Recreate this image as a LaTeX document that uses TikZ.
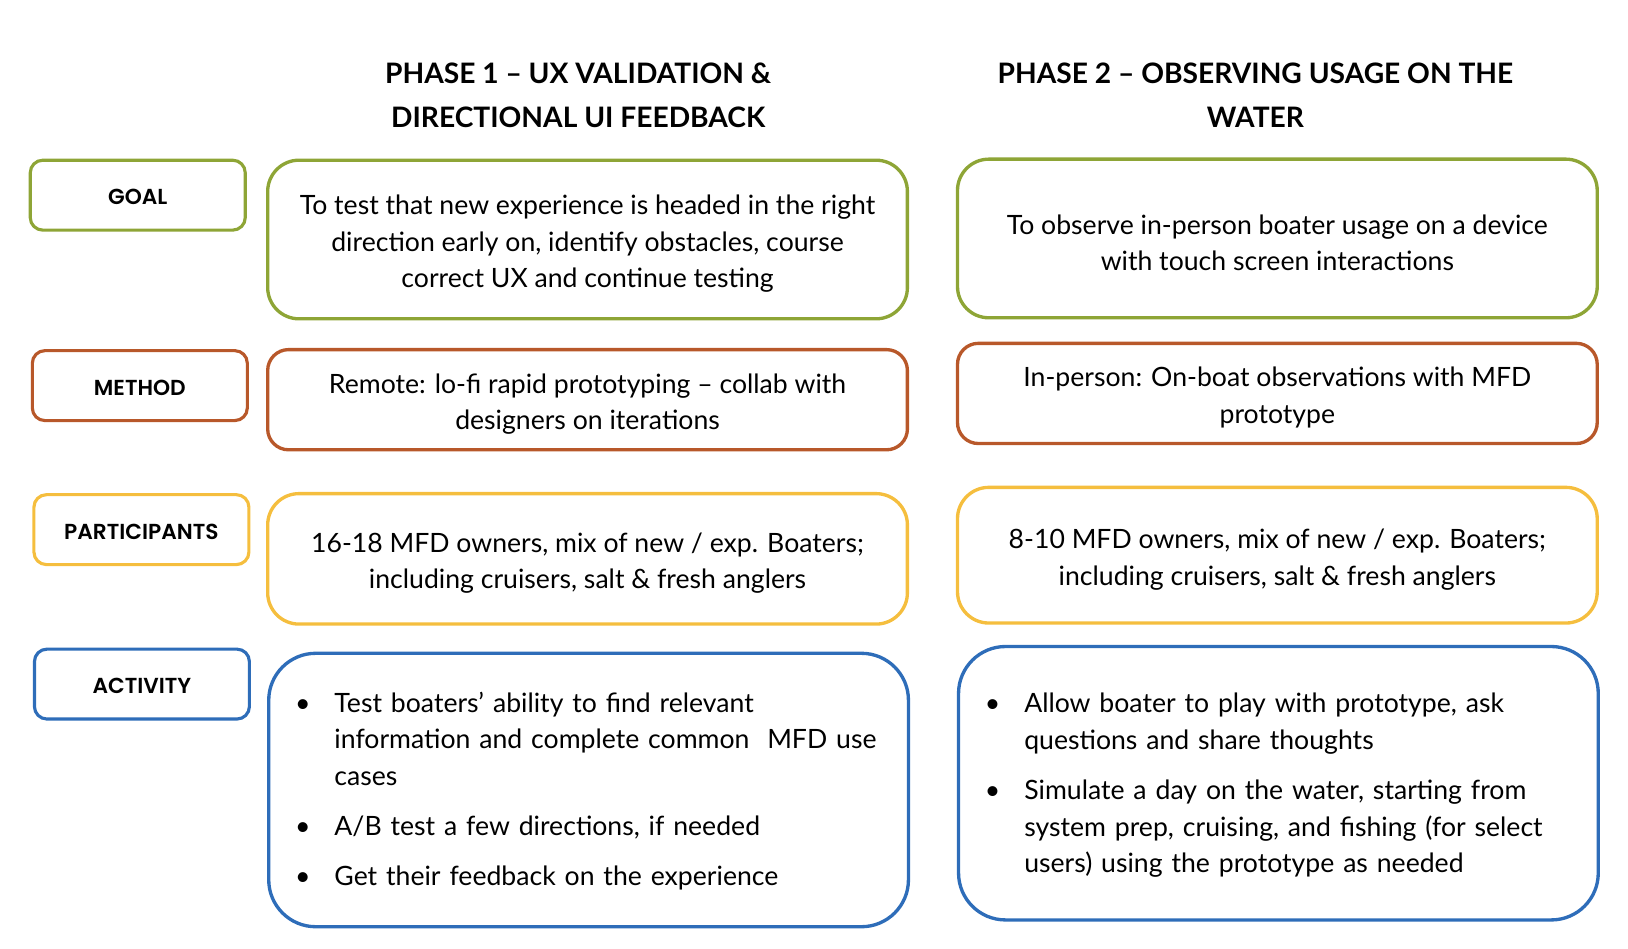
\documentclass[tikz,border=0pt]{standalone}
\usepackage{fontspec}
\setmainfont{Lato}
\newfontfamily\labelfont{Poppins SemiBold}
\usepackage{enumitem}
\definecolor{goalgreen}{RGB}{142,165,54}
\definecolor{methodred}{RGB}{184,88,42}
\definecolor{partyellow}{RGB}{245,190,62}
\definecolor{actblue}{RGB}{46,109,185}
\newlist{steps}{itemize}{1}
\setlist[steps]{label=\textbullet, nosep, itemsep=13pt, leftmargin=38pt, labelsep=23pt}
\newcommand\topstrut{\rule{0pt}{27pt}}

\begin{document}
\begin{tikzpicture}[x=1pt,y=-1pt]
    \tikzstyle{lbl}=[draw, line width=3pt, rounded corners=12pt, minimum width=206pt, minimum height=67pt, inner sep=0pt, text height=18.5pt, text depth=0pt, font=\labelfont\fontsize{20.8}{24}\selectfont]
    \tikzstyle{box}=[draw, line width=3.2pt, rounded corners=30pt, minimum width=613pt, inner sep=0pt, align=center, font=\fontsize{25.5}{35}\selectfont]
    \tikzstyle{actbox}=[box, rounded corners=45pt, text width=563pt, inner xsep=25pt, align=left]
    \tikzstyle{title}=[align=center, font=\bfseries\fontsize{27}{42}\selectfont]

    \useasboundingbox (0,0) rectangle (1560,908.4);

    % headings
    \node[title] (phaseone) at (554,91) {PHASE 1 – UX VALIDATION \&\\DIRECTIONAL UI FEEDBACK};
    \node[title] (phasetwo) at (1203,91) {PHASE 2 – OBSERVING USAGE ON THE\\WATER};

    % row labels
    \node[lbl, draw=goalgreen] (goal) at (132,187) {GOAL};
    \node[lbl, draw=methodred] (method) at (134,369.5) {METHOD};
    \node[lbl, draw=partyellow] (part) at (135.5,507.5) {PARTICIPANTS};
    \node[lbl, draw=actblue] (act) at (136,655.5) {ACTIVITY};

    % phase 1
    \node[box, draw=goalgreen, minimum height=152pt] (goalone) at (563,229.5)
        {\topstrut To test that new experience is headed in the right\\direction early on, identify obstacles, course\\correct UX and continue testing};
    \node[box, draw=methodred, minimum height=96pt, rounded corners=20pt] (methodone) at (563,383)
        {\topstrut Remote: lo-fi rapid prototyping – collab with\\designers on iterations};
    \node[box, draw=partyellow, minimum height=125pt] (partone) at (563,535.5)
        {\topstrut 16-18 MFD owners, mix of new / exp. Boaters;\\including cruisers, salt \& fresh anglers};
    \node[actbox, draw=actblue, minimum height=262pt] (actone) at (564,757) {%
        \vspace*{-14pt}
        \begin{steps}
        \item Test boaters' ability to find relevant\\information and complete common\ \ MFD use\\cases
        \item A/B test a few directions, if needed
        \item Get their feedback on the experience
        \end{steps}};

    % phase 2
    \node[box, draw=goalgreen, minimum height=152pt] (goaltwo) at (1224,228.5)
        {\topstrut To observe in-person boater usage on a device\\with touch screen interactions};
    \node[box, draw=methodred, minimum height=96pt, rounded corners=20pt] (methodtwo) at (1224,377)
        {\topstrut In-person: On-boat observations with MFD\\prototype};
    \node[box, draw=partyellow, minimum height=130pt] (parttwo) at (1224,532)
        {\topstrut 8-10 MFD owners, mix of new / exp. Boaters;\\including cruisers, salt \& fresh anglers};
    \node[actbox, draw=actblue, minimum height=262pt] (acttwo) at (1225,750.5) {%
        \vspace*{-12pt}
        \begin{steps}
        \item Allow boater to play with prototype, ask\\questions and share thoughts
        \item Simulate a day on the water, starting from\\system prep, cruising, and fishing (for select\\users) using the prototype as needed
        \end{steps}};
\end{tikzpicture}
\end{document}
